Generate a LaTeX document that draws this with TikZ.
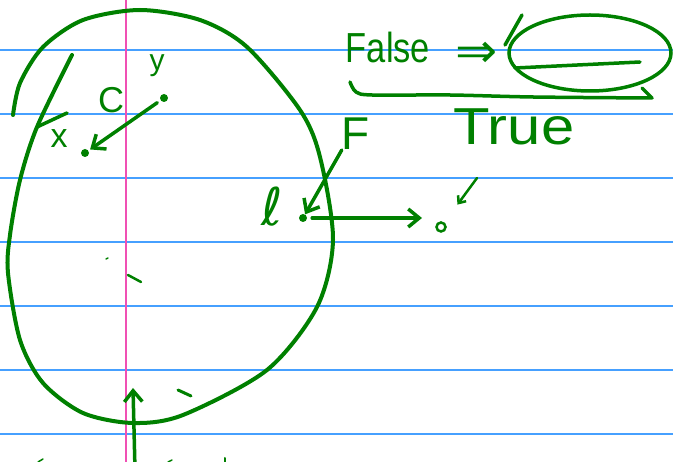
\documentclass[tikz,border=0pt]{standalone}
\usepackage{fontspec}
\setsansfont{Liberation Sans}
\newfontfamily\symfont{DejaVu Sans}
\usetikzlibrary{positioning, arrows.meta, shapes.geometric}
\definecolor{pen}{RGB}{0,128,0}
\definecolor{ruling}{RGB}{70,160,255}
\definecolor{margin}{RGB}{240,80,180}

\begin{document}
\begin{tikzpicture}[
    x=1pt, y=-1pt,
    ink/.style={draw=pen, line width=3.5pt, line cap=round, line join=round},
    inkarr/.style={ink, -{Straight Barb[length=11pt, width=18pt]}},
    lbl/.style={text=pen, inner sep=0pt, font=\sffamily\fontsize{30}{30}\selectfont},
    dotn/.style={circle, fill=pen, inner sep=0pt, minimum size=8pt},
]
\useasboundingbox (0,0) rectangle (673,462);

% Paper
\foreach \r in {50,114,...,434}
    \draw[ruling, line width=1.6pt] (0,\r) -- (673,\r);
\draw[margin, line width=1.5pt] (126,0) -- (126,462);

% Blob
\draw[ink, line width=4pt] plot[smooth] coordinates {(13,115) (20,83) (43,47) (83,20)
    (140,10) (200,20) (247,47) (300,110) (320,157) (333,240) (317,307) (267,370)
    (183,415) (133,423) (83,413) (43,383) (20,340) (8,273) (10,235) (20,180)
    (37,127) (72,55)};

% Top left -- x, y and C
\node[dotn] (doty) at (164,98) {};
\node[dotn] (dotx) at (85,153) {};
\node[lbl] (lbly) at (157,66) {y};
\node[lbl, font=\sffamily\fontsize{36}{36}\selectfont] (lblc) at (111,100) {C};
\node[lbl, font=\sffamily\fontsize{34}{34}\selectfont] (lblx) at (59,139) {x};
\draw[inkarr, shorten <=4pt, shorten >=2pt] (doty) -- (dotx);
\draw[ink] (37,127) -- (67,113);

% Right -- l, F and True
\node[lbl, font=\symfont\fontsize{52}{52}\selectfont] (lblell) at (272,207) {ℓ};
\node[dotn] (dotl) at (303,218) {};
\node[lbl, font=\sffamily\fontsize{46}{46}\selectfont] (lblf) at (356,134) {F};
\node[circle, draw=pen, line width=2.5pt, minimum size=9pt, inner sep=0pt] (dotv) at (441,227) {};
\coordinate (tickv) at (477,178);
\draw[inkarr] (lblf.south west) -- (dotl);
\draw[inkarr, shorten <=5pt, shorten >=19pt] (dotl) -- (dotl -| dotv);
\draw[ink, line width=2.5pt, -{Straight Barb[length=6pt, width=10pt]}, shorten >=22pt] (tickv) -- (dotv);

% Top right -- False => empty
\node[lbl, font=\sffamily\fontsize{42}{42}\selectfont, xscale=0.82] (lblfalse) at (388,47) {False};
\node[lbl, font=\symfont\fontsize{48}{48}\selectfont, xscale=1.05] (implies) at (477,55) {⇒};
\node[ellipse, draw=pen, line width=3.5pt, minimum width=162pt, minimum height=76pt] (oval) at (590,53) {};
\draw[ink] (oval.center) ++(-75,15) -- ++(125,-6);
\draw[ink] (505,45) -- (522,15);
\draw[ink] plot[smooth] coordinates {(350,82) (356,92) (372,95) (450,95) (533,97) (652,98)}
    -- (642,88);
\node[lbl, font=\sffamily\fontsize{52}{52}\selectfont, xscale=1.15] (lbltrue) at (514,127) {True};

% Bottom -- arrow into blob
\coordinate (penin) at (135,470);
\coordinate (penhead) at (133,388);
\draw[inkarr] (penin) -- (penhead);

% Stray marks
\draw[ink, line width=2.5pt] (128,275) -- (141,282);
\draw[ink, line width=1.5pt] (106,259) -- (108,258);
\draw[ink, line width=3pt] (178,390) -- (191,396);
\draw[ink, line width=1.5pt] (38,462) -- (43,459);
\draw[ink, line width=1.5pt] (168,462) -- (172,460);
\draw[ink, line width=2pt] (225,462) -- (225,458);
\end{tikzpicture}
\end{document}
